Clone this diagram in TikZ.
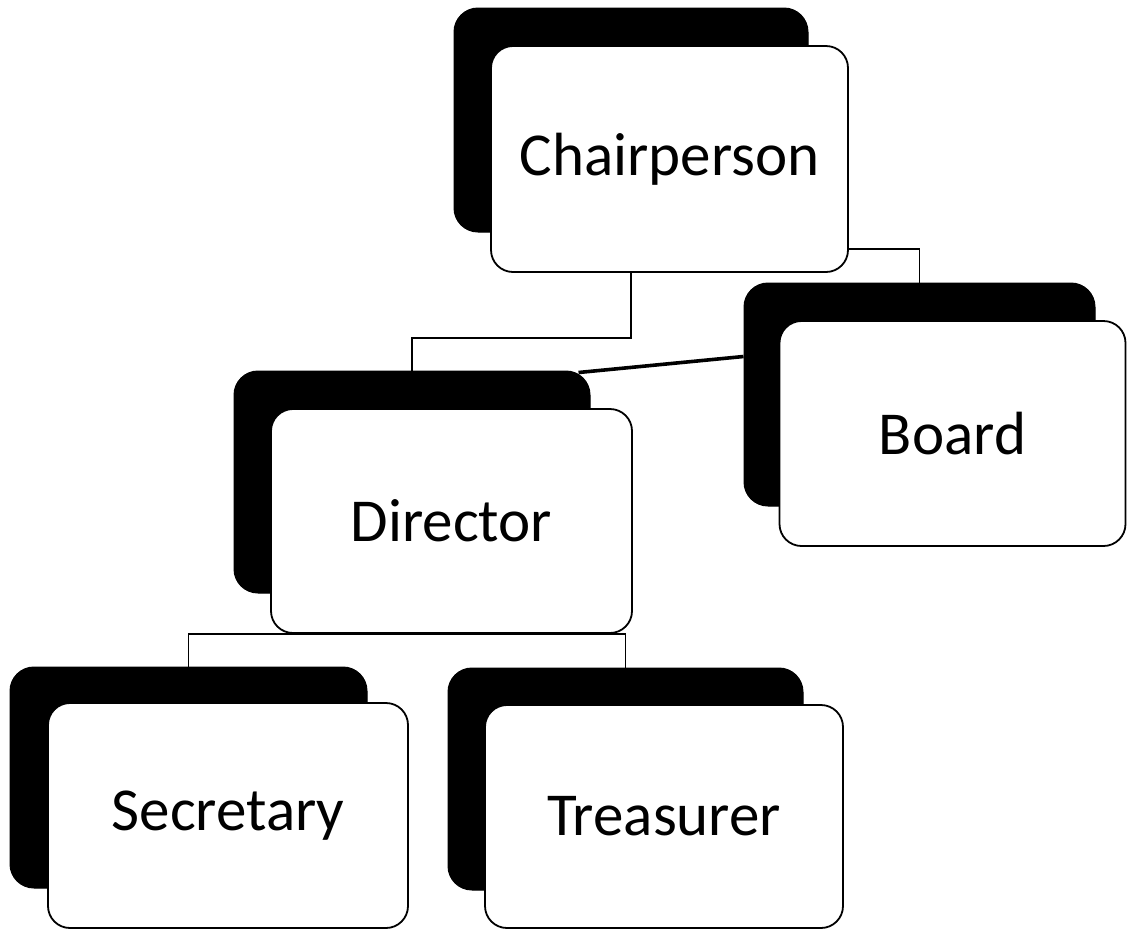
\documentclass[tikz,border=0pt]{standalone}
\usepackage{fontspec}
\setmainfont{Carlito}
\usetikzlibrary{calc}
\begin{document}
\begin{tikzpicture}[x=1pt,y=-1pt,
  shadowbox/.style={fill=black, draw=black, line width=1pt, rounded corners=24pt, inner sep=0pt},
  card/.style={fill=white, draw=black, line width=1.8pt, rounded corners=22pt, inner sep=0pt,
    font=\fontsize{61}{70}\selectfont, text=black},
  conn/.style={draw=black, line width=1.6pt},
  thickconn/.style={draw=black, line width=3.6pt}]
\useasboundingbox (0,0) rectangle (1127,930);
% shadows
\node[shadowbox, minimum width=354pt, minimum height=224pt] (chairS) at (631,120) {};
\node[shadowbox, minimum width=351pt, minimum height=223pt] (boardS) at (919.5,394.5) {};
\node[shadowbox, minimum width=356pt, minimum height=222pt] (dirS) at (412,482) {};
\node[shadowbox, minimum width=357pt, minimum height=221pt] (secS) at (188.5,777.5) {};
\node[shadowbox, minimum width=355pt, minimum height=222pt] (trS) at (625.5,779) {};
% fronts
\node[card, minimum width=357pt, minimum height=226pt] (chair) at (669.5,159) {Chairperson};
\node[card, minimum width=346pt, minimum height=225pt] (board) at (952.5,433.5) {Board};
\node[card, minimum width=361pt, minimum height=224pt] (dir) at (451.5,521) {Director};
\node[card, minimum width=360pt, minimum height=225pt] (sec) at (228,815.5) {Secretary};
\node[card, minimum width=358pt, minimum height=223pt] (tr) at (664,816.5) {Treasurer};
% connectors
\draw[conn] (chair.south -| chairS.south) -- ++(0,65) -| (dirS.north);
\draw[conn] (chair.south east) ++(0,-24) -| (boardS.north);
\draw[thickconn] ($(boardS.north west)+(0,74)$) -- ($(dirS.north east)+(-12,2)$);
\draw[conn] (secS.north) |- (dir.south);
\draw[conn] (trS.north) |- (dir.south);
\end{tikzpicture}
\end{document}
